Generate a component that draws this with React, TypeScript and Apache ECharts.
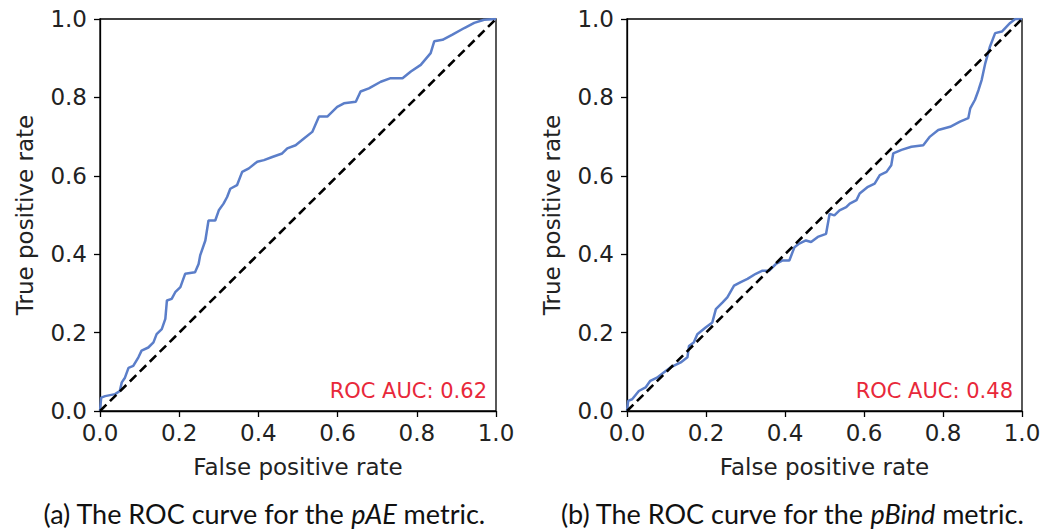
import React, { useEffect, useRef } from "react";
import * as echarts from "echarts";

// ROC curve for the pAE metric: [false positive rate, true positive rate]
const paeFpr = [0, 0.003, 0.013, 0.038, 0.05, 0.055, 0.063, 0.072, 0.084, 0.097, 0.105, 0.122, 0.135, 0.143, 0.156, 0.165, 0.169, 0.181, 0.19, 0.203, 0.215, 0.24, 0.249, 0.253, 0.266, 0.274, 0.291, 0.3, 0.312, 0.321, 0.329, 0.346, 0.359, 0.376, 0.397, 0.414, 0.435, 0.46, 0.473, 0.494, 0.515, 0.536, 0.553, 0.574, 0.599, 0.616, 0.646, 0.658, 0.679, 0.709, 0.734, 0.764, 0.785, 0.81, 0.835, 0.844, 0.865, 0.89, 0.92, 0.945, 0.97, 1];
const paeTpr = [0, 0.034, 0.038, 0.043, 0.051, 0.073, 0.085, 0.11, 0.115, 0.137, 0.154, 0.162, 0.175, 0.196, 0.209, 0.235, 0.282, 0.286, 0.303, 0.316, 0.35, 0.354, 0.375, 0.397, 0.435, 0.486, 0.486, 0.512, 0.529, 0.546, 0.567, 0.576, 0.61, 0.619, 0.636, 0.64, 0.648, 0.657, 0.67, 0.678, 0.695, 0.712, 0.751, 0.751, 0.776, 0.785, 0.789, 0.815, 0.823, 0.84, 0.849, 0.849, 0.866, 0.883, 0.913, 0.943, 0.947, 0.96, 0.977, 0.99, 0.998, 1];

// ROC curve for the pBind metric
const pbindFpr = [0, 0.003, 0.013, 0.03, 0.047, 0.059, 0.076, 0.093, 0.11, 0.136, 0.153, 0.157, 0.169, 0.178, 0.199, 0.216, 0.225, 0.242, 0.254, 0.271, 0.288, 0.305, 0.326, 0.343, 0.36, 0.377, 0.394, 0.411, 0.424, 0.436, 0.453, 0.466, 0.483, 0.504, 0.513, 0.525, 0.538, 0.555, 0.564, 0.581, 0.589, 0.61, 0.627, 0.64, 0.657, 0.669, 0.674, 0.695, 0.72, 0.75, 0.767, 0.788, 0.818, 0.843, 0.864, 0.869, 0.881, 0.89, 0.898, 0.907, 0.919, 0.932, 0.949, 0.97, 0.983, 1];
const pbindTpr = [0, 0.026, 0.03, 0.051, 0.06, 0.077, 0.085, 0.098, 0.111, 0.124, 0.137, 0.166, 0.175, 0.196, 0.213, 0.226, 0.26, 0.277, 0.29, 0.32, 0.329, 0.337, 0.35, 0.358, 0.358, 0.375, 0.384, 0.384, 0.418, 0.427, 0.435, 0.431, 0.444, 0.452, 0.503, 0.499, 0.512, 0.52, 0.529, 0.538, 0.555, 0.572, 0.58, 0.602, 0.61, 0.627, 0.657, 0.666, 0.674, 0.678, 0.7, 0.717, 0.725, 0.738, 0.747, 0.772, 0.794, 0.819, 0.845, 0.887, 0.93, 0.964, 0.968, 0.99, 1, 1];

const aucValues = [0.62, 0.48];
const metricNames = ["pAE", "pBind"];
const panelLetters = ["a", "b"];
const tickValues = [0, 0.2, 0.4, 0.6, 0.8, 1.0];

const curveColor = "#5b7ec9";
const aucColor = "#e8283a";
const font = "DejaVu Sans";

const toPairs = (xs: number[], ys: number[]) => xs.map((x, i) => [x, ys[i]]);

export default function App() {
  const ref = useRef<HTMLDivElement>(null);

  useEffect(() => {
    if (!ref.current) return;
    const chart = echarts.init(ref.current, null, { renderer: "svg" });

    const grids = [
      { left: 100, top: 19, width: 396, height: 392 },
      { left: 627, top: 19, width: 395, height: 392 },
    ];
    const captionCenters = [264, 792];

    const axisCommon = {
      type: "value" as const,
      min: 0,
      max: 1,
      interval: 0.2,
      splitLine: { show: false },
      axisLine: { show: true, onZero: false, lineStyle: { color: "#000", width: 1.3 } },
      axisTick: { show: true, length: 6, inside: false, lineStyle: { color: "#000", width: 1.3 } },
      axisLabel: {
        color: "#222",
        fontFamily: font,
        fontSize: 23,
        formatter: (v: number) => tickValues.includes(Math.round(v * 10) / 10) ? v.toFixed(1) : "",
      },
      nameLocation: "middle" as const,
      nameTextStyle: { color: "#222", fontFamily: font, fontSize: 23 },
    };

    const curves = [toPairs(paeFpr, paeTpr), toPairs(pbindFpr, pbindTpr)];

    chart.setOption({
      animation: false,
      backgroundColor: "#fff",
      grid: grids.map((g) => ({
        ...g,
        show: true,
        borderColor: "#000",
        borderWidth: 1.3,
        backgroundColor: "transparent",
      })),
      xAxis: grids.map((_, i) => ({
        ...axisCommon,
        gridIndex: i,
        name: "False positive rate",
        nameGap: 44,
        axisLabel: { ...axisCommon.axisLabel, margin: 10 },
      })),
      yAxis: grids.map((_, i) => ({
        ...axisCommon,
        gridIndex: i,
        name: "True positive rate",
        nameGap: 64,
        axisLabel: { ...axisCommon.axisLabel, margin: 13 },
      })),
      series: [
        ...curves.map((data, i) => ({
          type: "line",
          xAxisIndex: i,
          yAxisIndex: i,
          data,
          showSymbol: false,
          z: 3,
          lineStyle: { color: curveColor, width: 2.5 },
        })),
        ...curves.map((_, i) => ({
          type: "line",
          xAxisIndex: i,
          yAxisIndex: i,
          data: [[0, 0], [1, 1]],
          showSymbol: false,
          z: 4,
          lineStyle: { color: "#000", width: 2.6, type: [9, 5] },
        })),
      ],
      graphic: [
        ...grids.map((g, i) => ({
          type: "text",
          right: 1048 - (g.left + g.width) + 9,
          top: 380,
          style: {
            text: `ROC AUC: ${aucValues[i].toFixed(2)}`,
            fill: aucColor,
            fontFamily: font,
            fontSize: 21,
          },
        })),
        ...grids.map((_, i) => ({
          type: "text",
          x: captionCenters[i],
          y: 513,
          style: {
            text: `(${panelLetters[i]}) The ROC curve for the {it|${metricNames[i]}} metric.`,
            fill: "#111",
            fontFamily: "Lato",
            fontSize: 27,
            align: "center",
            verticalAlign: "middle",
            rich: {
              it: { fontFamily: "Lato", fontStyle: "italic", fontSize: 27, fill: "#111" },
            },
          },
        })),
      ],
    });

    return () => chart.dispose();
  }, []);

  return <div ref={ref} style={{ width: 1048, height: 532, position: "absolute", left: 0, top: 0 }} />;
}
